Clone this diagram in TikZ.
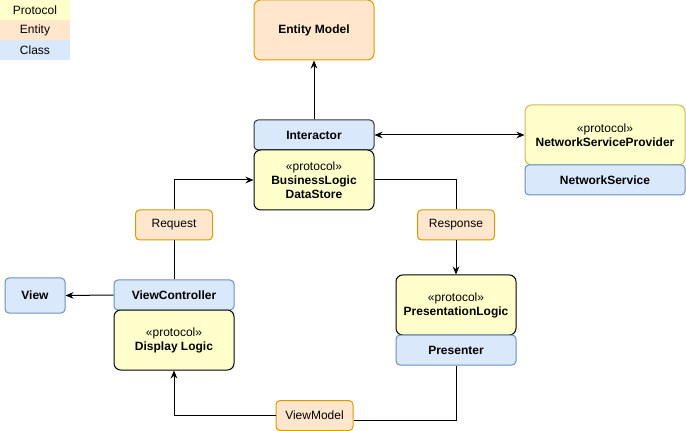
\documentclass[tikz,border=0pt]{standalone}
\usepackage{fontspec}
\setmainfont{Liberation Sans}
\usetikzlibrary{arrows.meta,calc}
\definecolor{protofill}{HTML}{FFFFCC}
\definecolor{entfill}{HTML}{FFE6CC}
\definecolor{entdraw}{HTML}{D79B00}
\definecolor{clsfill}{HTML}{DAE8FC}
\definecolor{clsdraw}{HTML}{6C8EBF}
\definecolor{protodraw}{HTML}{D6B656}
\tikzset{
  base/.style={rectangle, line width=0.75pt, align=center, inner sep=0pt,
    font=\fontsize{9}{10.5}\selectfont},
  legbox/.style={base, draw=none, minimum width=70*0.75pt, minimum height=20*0.75pt},
  protobox/.style={base, fill=protofill, draw=black, rounded corners=5pt},
  entbox/.style={base, fill=entfill, draw=entdraw, rounded corners=5pt},
  clsbox/.style={base, fill=clsfill, draw=clsdraw, rounded corners=3pt},
  conn/.style={line width=0.75pt, black},
  arr/.style={conn, -{Stealth[length=6pt,width=5pt]}}
}
\begin{document}
\begin{tikzpicture}[x=0.75pt,y=-0.75pt]
\useasboundingbox (0,0) rectangle (686,431);
% legend
\node[legbox, fill=protofill] (legP) at (35,10) {Protocol};
\node[legbox, fill=entfill] (legE) at (35,30) {Entity};
\node[legbox, fill=clsfill] (legC) at (35,50) {Class};
% nodes
\node[entbox, minimum width=120*0.75pt, minimum height=60*0.75pt] (em) at (314,30) {\textbf{Entity Model}};
\node[clsbox, draw=black!80, minimum width=120*0.75pt, minimum height=30*0.75pt] (inter) at (314,135) {\textbf{Interactor}};
\node[protobox, minimum width=120*0.75pt, minimum height=60*0.75pt] (bl) at (314,180) {«protocol»\\\textbf{BusinessLogic}\\\textbf{DataStore}};
\node[protobox, draw=protodraw, minimum width=160*0.75pt, minimum height=60*0.75pt] (nsp) at (605,135) {«protocol»\\\textbf{NetworkServiceProvider}};
\node[clsbox, minimum width=160*0.75pt, minimum height=30*0.75pt] (ns) at (605,180) {\textbf{NetworkService}};
\node[entbox, rounded corners=3pt, minimum width=77*0.75pt, minimum height=30*0.75pt] (req) at (174,225) {Request};
\node[entbox, rounded corners=3pt, minimum width=77*0.75pt, minimum height=30*0.75pt] (resp) at (456,225) {Response};
\node[clsbox, minimum width=60*0.75pt, minimum height=35*0.75pt] (view) at (35,295.5) {\textbf{View}};
\node[clsbox, minimum width=120*0.75pt, minimum height=30*0.75pt] (vc) at (174,295) {\textbf{ViewController}};
\node[protobox, minimum width=120*0.75pt, minimum height=60*0.75pt] (dl) at (174,340) {«protocol»\\\textbf{Display Logic}};
\node[protobox, minimum width=120*0.75pt, minimum height=60*0.75pt] (pl) at (456,305) {«protocol»\\\textbf{PresentationLogic}};
\node[clsbox, minimum width=120*0.75pt, minimum height=30*0.75pt] (pres) at (456,350) {\textbf{Presenter}};
\node[entbox, rounded corners=3pt, minimum width=77*0.75pt, minimum height=30*0.75pt] (vm) at (314.5,415.5) {ViewModel};
% connectors
\draw[arr] (inter.north) -- (em.south);
\draw[conn, {Stealth[length=6pt,width=5pt]}-{Stealth[length=6pt,width=5pt]}] (inter.east) -- (nsp.west);
\draw[arr] (req.north) |- (bl.west);
\draw[conn] (vc.north) -- (req.south);
\draw[conn] (bl.east) -| (resp.north);
\draw[arr] (resp.south) -- (pl.north);
\draw[arr] (vc.west) -- (view.east);
\draw[conn] (pres.south) |- ($(vm.east)+(0,5)$);
\draw[arr] (vm.west) -| (dl.south);
\end{tikzpicture}
\end{document}
